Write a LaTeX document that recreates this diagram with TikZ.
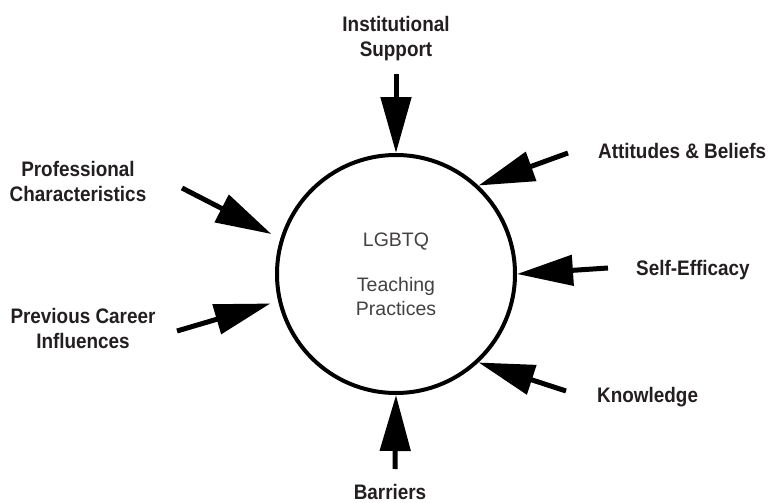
\documentclass[tikz,border=0pt]{standalone}
\usepackage{fontspec}
\setmainfont{Liberation Sans}
\newfontfamily\labelfont[FakeStretch=0.9]{Liberation Sans}
\usetikzlibrary{arrows.meta}
\definecolor{inkgray}{HTML}{231F20}
\begin{document}
\begin{tikzpicture}[x=1pt,y=-1pt,
  factor/.style={font=\labelfont\bfseries\fontsize{21}{25}\selectfont,text=inkgray,align=center,inner sep=0pt},
  push/.style={line width=5pt,-{Triangle[width=30pt,length=56pt]}}]
\useasboundingbox (0,0) rectangle (774,503);
% central practice
\node[circle,draw,line width=4pt,minimum size=238pt,inner sep=0pt,text=inkgray!85,
  font=\fontsize{19.5}{24}\selectfont,align=center] (tp) at (396,274) {LGBTQ\\[21pt]Teaching\\Practices};
% factors
\node[factor] (inst) at (396,39) {Institutional\\Support};
\node[factor,anchor=base west] (att) at (598,158) {Attitudes \& Beliefs};
\node[factor,anchor=base west] (self) at (636,275) {Self-Efficacy};
\node[factor,anchor=base west] (know) at (597,402) {Knowledge};
\node[factor,anchor=base] (bar) at (390,499) {Barriers};
\node[factor] (prof) at (78,181) {Professional\\Characteristics};
\node[factor] (prev) at (83,328) {Previous Career\\Influences};
% arrow tails
\coordinate (instT) at (396,74);
\coordinate (attT) at (568,153);
\coordinate (selfT) at (608,268);
\coordinate (knowT) at (566,391);
\coordinate (barT) at (395,469);
\coordinate (profT) at (182,188);
\coordinate (prevT) at (177,331);
\draw[push] (instT) -- (tp.90);
\draw[push] (attT) -- (tp.47);
\draw[push] (selfT) -- (tp.0);
\draw[push] (knowT) -- (tp.-47);
\draw[push] (barT) -- (tp.-90);
\draw[push,shorten >=10pt] (profT) -- (tp.163);
\draw[push,shorten >=8pt] (prevT) -- (tp.193);
\end{tikzpicture}
\end{document}
